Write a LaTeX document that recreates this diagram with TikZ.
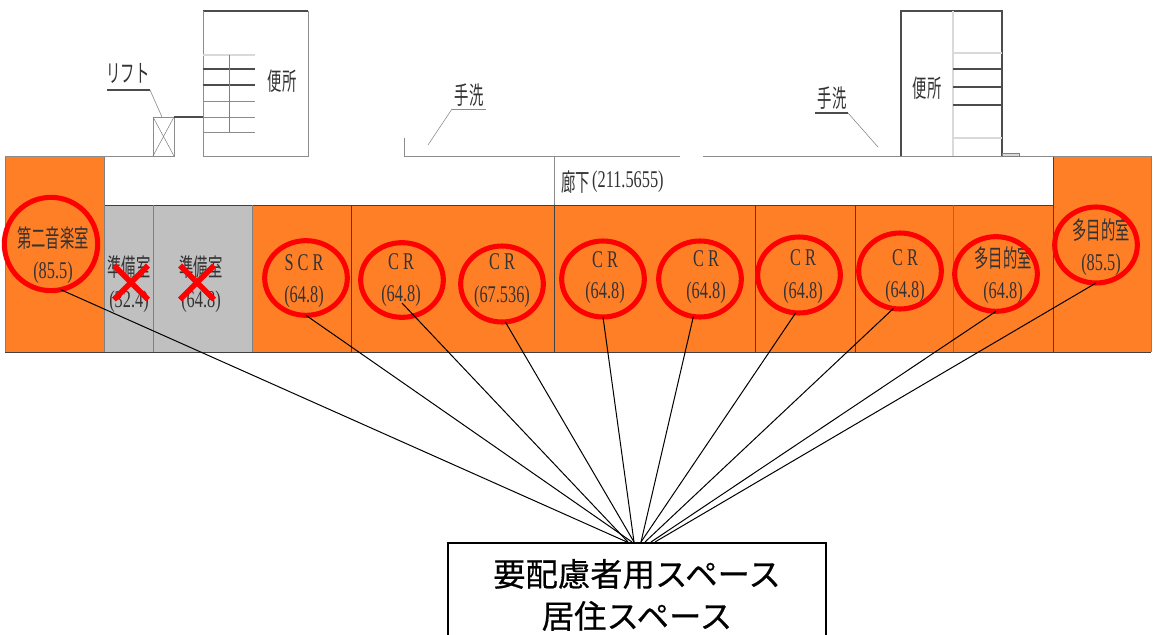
\documentclass[tikz,border=0pt]{standalone}
\usepackage{fontspec}
\usetikzlibrary{shapes.geometric}
\newfontfamily\cjk{Noto Sans CJK JP}
\newfontfamily\cjkheavy[FakeBold=.4]{Noto Sans CJK JP}
\newfontfamily\numfont{Liberation Serif}
\definecolor{roomorange}{HTML}{FF7F27}
\definecolor{roomgrey}{HTML}{C0C0C0}
\begin{document}
\begin{tikzpicture}%
	[x=.75pt,
	y=-.75pt,
	wall/.style={color=black!45, line width=.65pt},
	lightwall/.style={color=black!15, line width=.8pt},
	darkwall/.style={color=black!70, line width=1pt},
	thinwall/.style={color=black!50, line width=.5pt},
	roomedge/.style={color=black!75, line width=.6pt},
	leader/.style={color=black!50, line width=.4pt},
	lead/.style={color=black, line width=.75pt},
	useroom/.style={fill=roomorange},
	offroom/.style={fill=roomgrey},
	ring/.style={ellipse, draw=red, line width=3.8pt, inner sep=0pt, outer sep=0pt},
	cross/.style={color=red, line width=4.2pt},
	jplabel/.style={font=\cjk\fontsize{18.5}{20}\selectfont, text=black!80, inner sep=0pt, xscale=.58},
	numlabel/.style={font=\numfont\fontsize{18}{20}\selectfont, text=black!80, inner sep=0pt, xscale=.68},
	sitebox/.style={draw=black, line width=1.4pt, fill=white, anchor=north west, align=center,
		minimum width=283.5pt, minimum height=78pt, inner sep=0pt,
		font=\cjkheavy\fontsize{24.3}{31.5}\selectfont}]
%
\useasboundingbox (0,0) rectangle (1156,635);
\fill[white] (0,0) rectangle (1156,635);
%%
%% Drawing the rooms
%%
\fill[useroom] (5,156) rectangle (104,352);
\fill[offroom] (104,205) rectangle (252,352);
\fill[useroom] (252,205) rectangle (1053,352);
\fill[useroom] (1053,156) rectangle (1151,352);
\draw[roomedge] (5,352) -- (1151,352);
\draw[roomedge] (104,205) -- (1053,205);
\draw[thinwall] (5,156) -- (5,352);
\draw[thinwall] (104,156) -- (104,352);
\draw[thinwall] (153,205) -- (153,352);
\draw[thinwall] (252,205) -- (252,352);
\draw[roomedge] (351,205) -- (351,352);
\draw[roomedge] (554,205) -- (554,352);
\draw[roomedge] (755,205) -- (755,352);
\draw[roomedge] (855,205) -- (855,352);
\draw[color=black!25!roomorange, line width=.4pt] (953,205) -- (953,352);
\draw[roomedge] (1053,156) -- (1053,352);
\draw[thinwall] (1151,156) -- (1151,352);
%%
%% Drawing the walls
%%
\draw[wall] (5,156) -- (174,156);
\draw[wall] (153,117) rectangle (174,156);
\draw[leader] (153,117) -- (174,156);
\draw[leader] (174,117) -- (153,156);
\draw[darkwall] (174,117) -- (203,117);
\draw[wall] (203,156) -- (308,156) -- (308,11);
\draw[darkwall] (203,11) -- (308,11);
\draw[wall] (203,11) -- (203,156);
\draw[wall] (404,138) -- (404,156) -- (680,156);
\draw[wall] (554,156) -- (554,205);
\draw[wall] (703,156) -- (1151,156);
\draw[darkwall] (901,156) -- (901,11) -- (1002,11) -- (1002,156);
\draw[lightwall] (953,11) -- (953,156);
\draw[thinwall, fill=black!15] (1002,153) rectangle (1019,156);
%%
%% Drawing the stairs
%%
\draw[lightwall] (203,55) -- (255,55);
\foreach \y in {69,85} {
	\draw[darkwall] (203,\y) -- (255,\y);
}
\foreach \y in {101,117,132} {
	\draw[wall] (203,\y) -- (255,\y);
}
\draw[thinwall] (229,55) -- (229,132);
\foreach \y in {53,138} {
	\draw[lightwall] (953,\y) -- (1002,\y);
}
\foreach \y in {69,87,105} {
	\draw[darkwall] (953,\y) -- (1002,\y);
}
%%
%% Drawing the plan notes
%%
\node[jplabel] (liftnote) at (128,73) {リフト};
\draw[darkwall] (107,90) -- (150,90);
\draw[leader] (150,90) -- (162,117);
\node[jplabel] (wcleft) at (282,81) {便所};
\node[jplabel] (washleft) at (469,95) {手洗};
\draw[wall] (452,109) -- (486,109);
\draw[leader] (452,109) -- (428,145);
\node[jplabel] (washright) at (832,98) {手洗};
\draw[darkwall] (815,113) -- (848,113);
\draw[leader] (848,113) -- (878,147);
\node[jplabel] (wcright) at (927,88) {便所};
\node[jplabel, anchor=east] (hallname) at (590,182) {廊下};
\node[numlabel, anchor=west] (hallsize) at (592,182) {(211.5655)};
%%
%% Drawing the room labels
%%
\node[jplabel] (musicname) at (53,238) {第二音楽室};
\node[numlabel] (musicsize) at (53,273) {(85.5)};
\node[jplabel] (prepaname) at (129,267) {準備室};
\node[numlabel] (prepasize) at (129,302) {(32.4)};
\node[jplabel] (prepbname) at (201,267) {準備室};
\node[numlabel] (prepbsize) at (201,302) {(64.8)};
\foreach \n/\t/\cx/\ty/\sy in {scr/S C R/304/263/297,
	cra/C R/401/262/296,
	crc/C R/605/260/293,
	crd/C R/706/259/293,
	cre/C R/803/258/293,
	crf/C R/905/258/292} {
	\node[numlabel, xscale=1] (\n name) at (\cx,\ty) {\t};
	\node[numlabel] (\n size) at (\cx,\sy) {(64.8)};
}
\node[numlabel, xscale=1] (crbname) at (502,262) {C R};
\node[numlabel] (crbsize) at (502,297) {(67.536)};
\node[jplabel] (multianame) at (1003,258) {多目的室};
\node[numlabel] (multiasize) at (1003,293) {(64.8)};
\node[jplabel] (multibname) at (1101,230) {多目的室};
\node[numlabel] (multibsize) at (1101,265) {(85.5)};
%%
%% Drawing the crosses
%%
\foreach \cx in {131,197} {
	\draw[cross] (\cx-17,265.5) -- (\cx+17,299.5);
	\draw[cross] (\cx-17,299.5) -- (\cx+17,265.5);
}
%%
%% Drawing the rings and the box
%%
\foreach \n/\cx/\cy/\w/\h in {1/51/244/70/70,
	2/306/278/62/56,
	3/402/280/62/56,
	4/502/284/62/57,
	5/603/279/62/57,
	6/700/279/62/57,
	7/799/275/62/57,
	8/900/271/62/57,
	9/996/274/62/56,
	10/1096/245/62/57} {
	\node[ring, minimum width=\w pt, minimum height=\h pt] (ring\n) at (\cx,\cy) {};
}
\node[sitebox] (site) at (447,542) {要配慮者用スペース\\居住スペース};
%
\coordinate (ringstart) at (402,303);
\foreach \s/\n/\ex in {ring1.-78/1/627,
	ring2.-90/2/632,
	ringstart/3/628,
	ring4.-85/4/634,
	ring5.-90/5/634,
	ring6.-100/6/641,
	ring7.-95/7/641,
	ring8.-100/8/645,
	ring9.-90/9/651,
	ring10.-90/10/655} {
	\coordinate (sitetop\n) at (\ex,542);
	\draw[lead] (\s) -- (sitetop\n);
}
\end{tikzpicture}
\end{document}
